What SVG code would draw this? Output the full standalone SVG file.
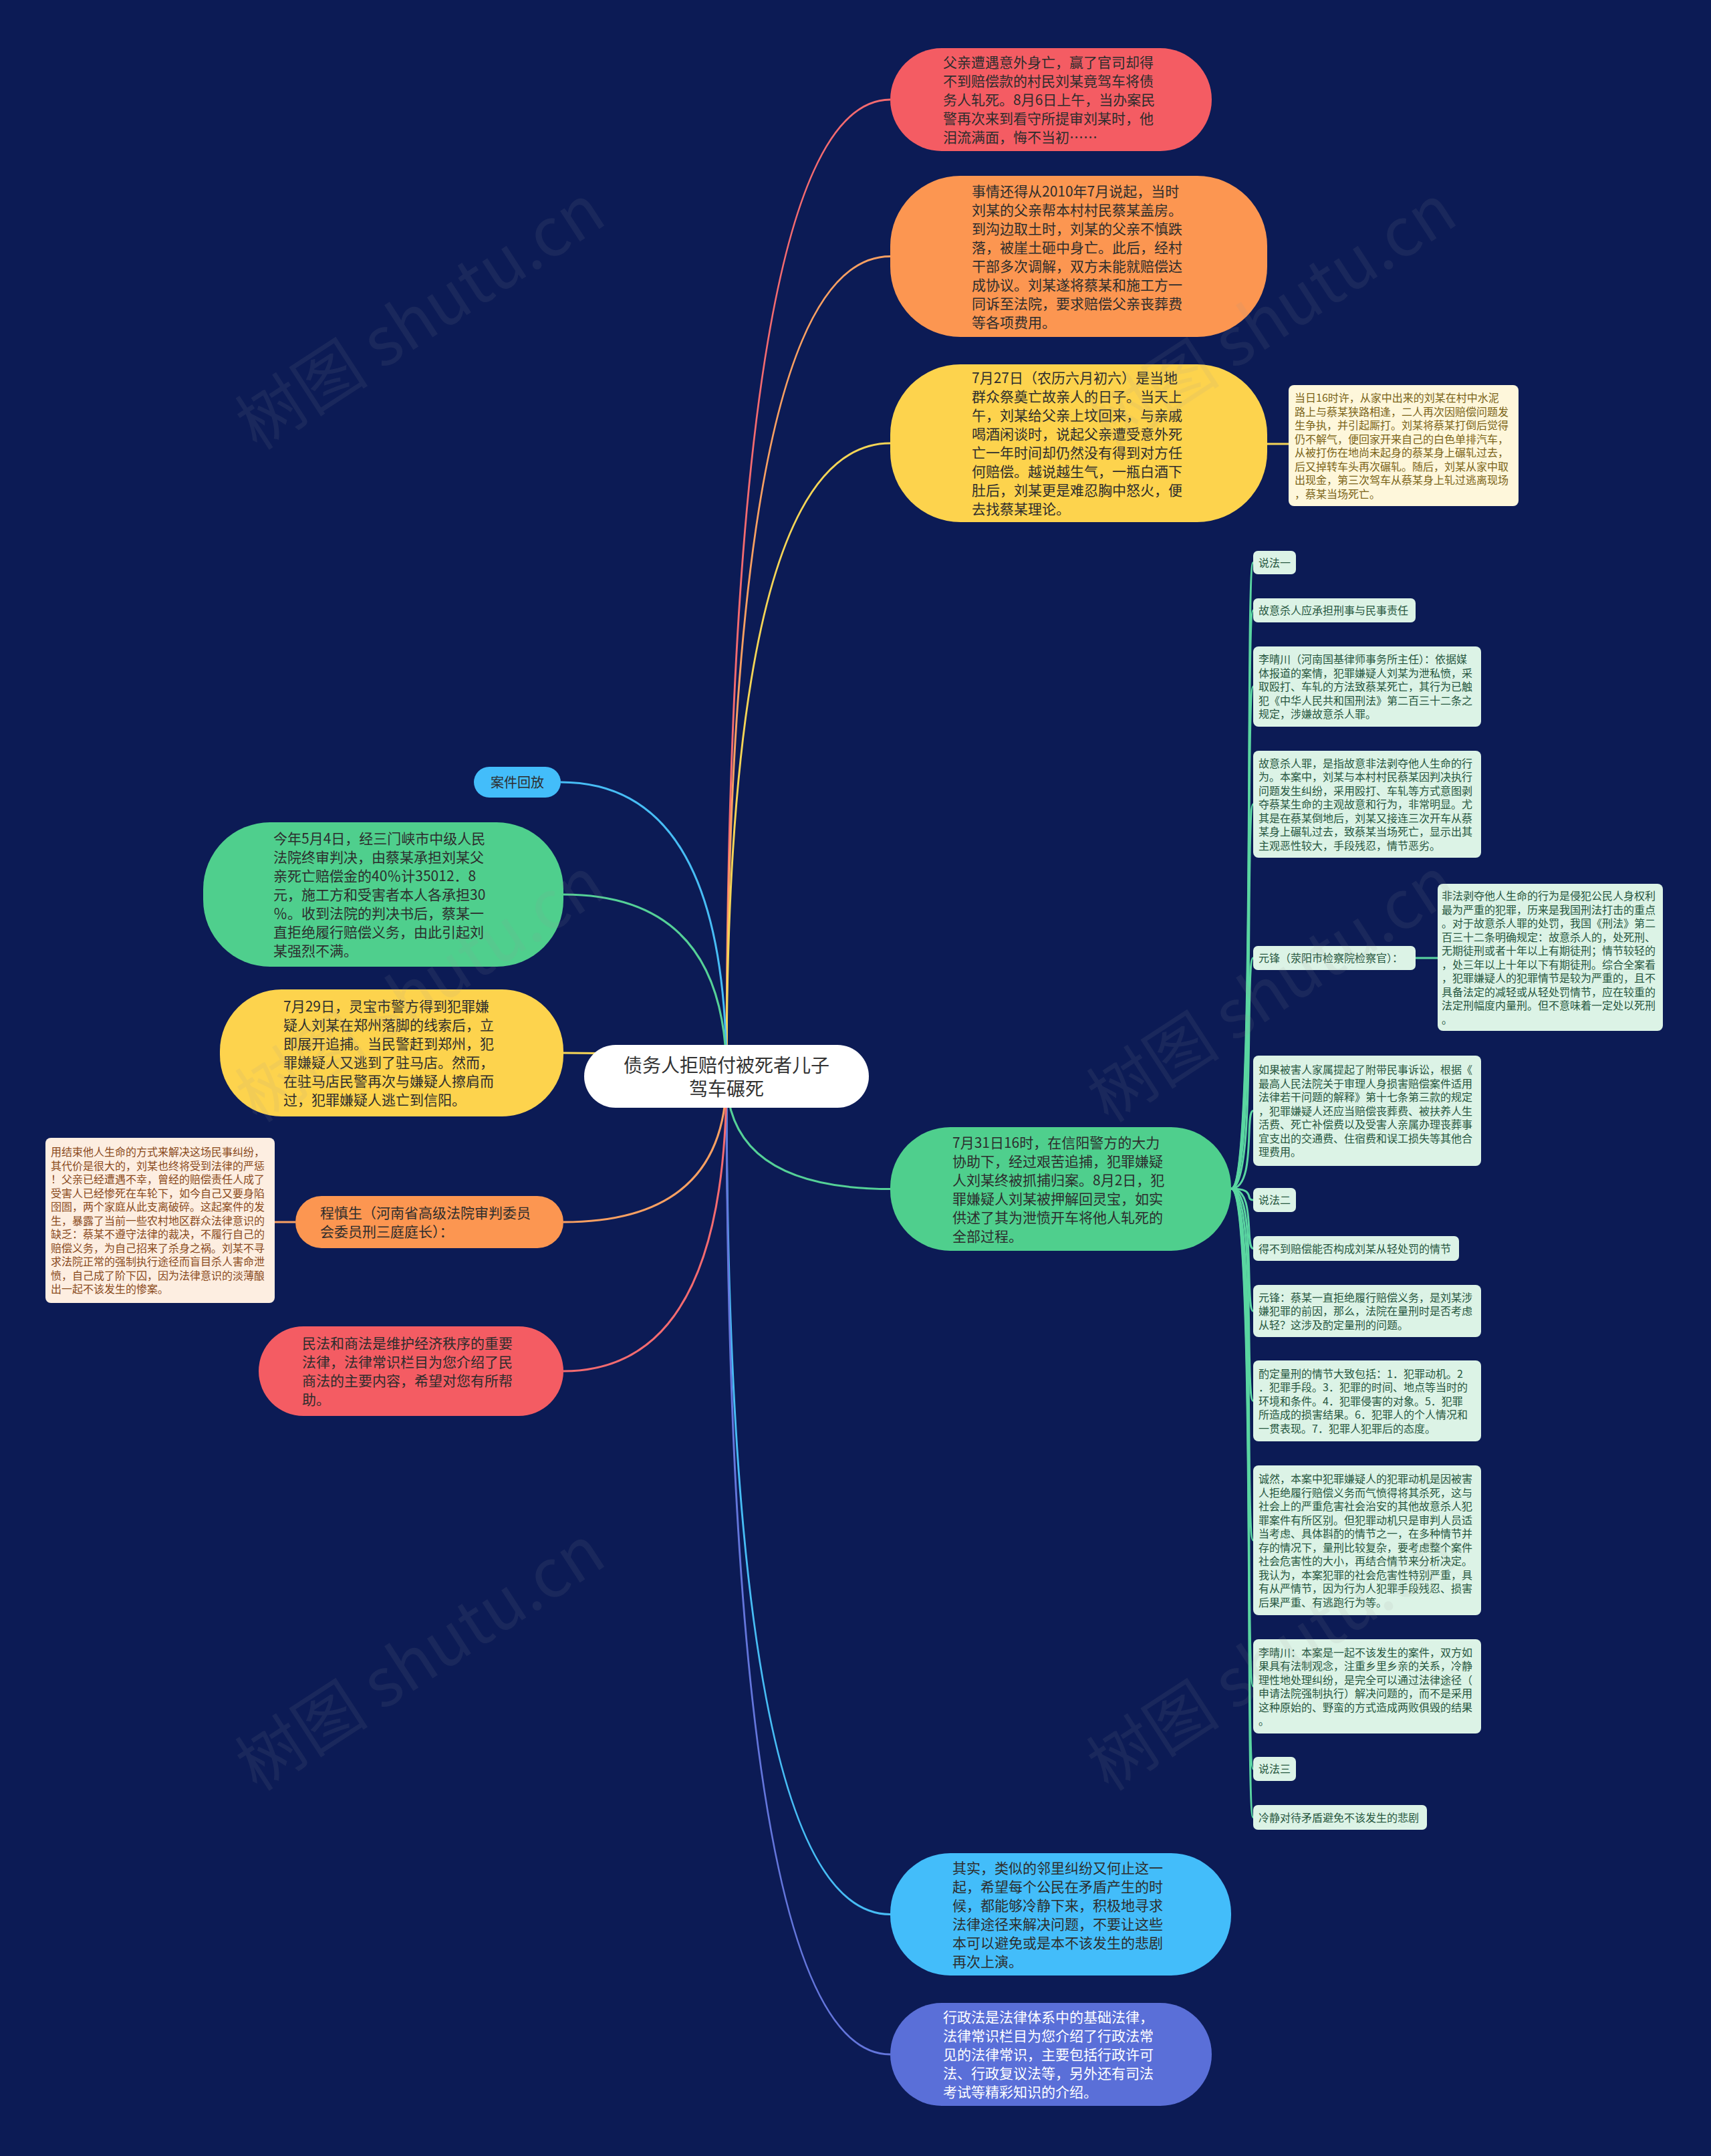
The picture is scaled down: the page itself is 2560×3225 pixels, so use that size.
<svg xmlns="http://www.w3.org/2000/svg" width="2560" height="3225" viewBox="0 0 2560 3225">
<style>
text{font-family:"Noto Sans CJK SC","Liberation Sans",sans-serif}
.b{font-size:21px;fill:#2d2d2d}
.w{font-size:21px;fill:#ffffff}
.s{font-size:16px;fill:#27573f}
.ny{font-size:16px;fill:#7b6418}
.no{font-size:16px;fill:#8a4a1c}
.c{font-size:28px;fill:#333333;text-anchor:middle}
.cn path,.cn line{fill:none;stroke-width:3}
.m{fill:#dcf3e6}
.wm{font-size:100px;fill:#9a9a9a;opacity:0.1}
</style>
<rect width="2560" height="3225" fill="#0c1b55"/>
<g id="connectors" class="cn">
<path d="M1087,1610 Q1087,149 1332,149" stroke="#f46b70"/>
<path d="M1087,1610 Q1087,383.5 1332,383.5" stroke="#f9a062"/>
<path d="M1087,1610 Q1087,663 1332,663" stroke="#f5d556"/>
<path d="M1087,1610 Q1087,1778.5 1332,1778.5" stroke="#55d197"/>
<path d="M1087,1610 Q1087,2863.5 1332,2863.5" stroke="#47bdf5"/>
<path d="M1087,1610 Q1087,3073 1332,3073" stroke="#6476dc"/>
<path d="M1087,1610 Q1087,1170 839,1170" stroke="#47bdf5"/>
<path d="M1087,1610 Q1087,1338 843,1338" stroke="#55d197"/>
<path d="M1087,1610 Q1087,1575 843,1575" stroke="#f5d556"/>
<path d="M1087,1610 Q1087,1828 843,1828" stroke="#f9a062"/>
<path d="M1087,1610 Q1087,2051 843,2051" stroke="#f46b70"/>
<line x1="1896" y1="664" x2="1928" y2="664" stroke="#f5d556"/>
<line x1="411" y1="1828" x2="442" y2="1828" stroke="#f9a062"/>
<g stroke="#5ad6a1">
<path d="M1842,1778 C1880,1778 1862,841.5 1875,841.5"/>
<path d="M1842,1778 C1880,1778 1862,913 1875,913"/>
<path d="M1842,1778 C1880,1778 1862,1027 1875,1027"/>
<path d="M1842,1778 C1880,1778 1862,1203 1875,1203"/>
<path d="M1842,1778 C1880,1778 1862,1433 1875,1433"/>
<path d="M1842,1778 C1880,1778 1862,1661.5 1875,1661.5"/>
<path d="M1842,1778 C1880,1778 1862,1795 1875,1795"/>
<path d="M1842,1778 C1880,1778 1862,1867.5 1875,1867.5"/>
<path d="M1842,1778 C1880,1778 1862,1961 1875,1961"/>
<path d="M1842,1778 C1880,1778 1862,2095.5 1875,2095.5"/>
<path d="M1842,1778 C1880,1778 1862,2304 1875,2304"/>
<path d="M1842,1778 C1880,1778 1862,2522.5 1875,2522.5"/>
<path d="M1842,1778 C1880,1778 1862,2646 1875,2646"/>
<path d="M1842,1778 C1880,1778 1862,2718.5 1875,2718.5"/>
<line x1="2118" y1="1433" x2="2151" y2="1433"/>
</g>
</g>

<g id="center">
<rect x="874" y="1563" width="426" height="94" rx="47" fill="#ffffff"/>
<text class="c" x="1087" y="1604">债务人拒赔付被死者儿子</text>
<text class="c" x="1087" y="1639">驾车碾死</text>
</g>

<g id="n-red-top">
<rect x="1332" y="72" width="481" height="154" rx="77" fill="#f45c63"/>
<text class="b" x="1411" y="101">父亲遭遇意外身亡，赢了官司却得</text>
<text class="b" x="1411" y="129">不到赔偿款的村民刘某竟驾车将债</text>
<text class="b" x="1411" y="157">务人轧死。8月6日上午，当办案民</text>
<text class="b" x="1411" y="185">警再次来到看守所提审刘某时，他</text>
<text class="b" x="1411" y="213">泪流满面，悔不当初……</text>
</g>

<g id="n-orange-top">
<rect x="1332" y="263" width="564" height="241" rx="105" fill="#fc9651"/>
<text class="b" x="1454" y="293.5">事情还得从2010年7月说起，当时</text>
<text class="b" x="1454" y="321.5">刘某的父亲帮本村村民蔡某盖房。</text>
<text class="b" x="1454" y="349.5">到沟边取土时，刘某的父亲不慎跌</text>
<text class="b" x="1454" y="377.5">落，被崖土砸中身亡。此后，经村</text>
<text class="b" x="1454" y="405.5">干部多次调解，双方未能就赔偿达</text>
<text class="b" x="1454" y="433.5">成协议。刘某遂将蔡某和施工方一</text>
<text class="b" x="1454" y="461.5">同诉至法院，要求赔偿父亲丧葬费</text>
<text class="b" x="1454" y="489.5">等各项费用。</text>
</g>

<g id="n-yellow-top">
<rect x="1332" y="545" width="564" height="236" rx="105" fill="#fdd34d"/>
<text class="b" x="1454" y="573">7月27日（农历六月初六）是当地</text>
<text class="b" x="1454" y="601">群众祭奠亡故亲人的日子。当天上</text>
<text class="b" x="1454" y="629">午，刘某给父亲上坟回来，与亲戚</text>
<text class="b" x="1454" y="657">喝酒闲谈时，说起父亲遭受意外死</text>
<text class="b" x="1454" y="685">亡一年时间却仍然没有得到对方任</text>
<text class="b" x="1454" y="713">何赔偿。越说越生气，一瓶白酒下</text>
<text class="b" x="1454" y="741">肚后，刘某更是难忍胸中怒火，便</text>
<text class="b" x="1454" y="769">去找蔡某理论。</text>
</g>

<g id="note-yellow">
<rect x="1928" y="576" width="344" height="181" rx="8" fill="#fef7db"/>
<text class="ny" x="1937" y="601">当日16时许，从家中出来的刘某在村中水泥</text>
<text class="ny" x="1937" y="621.5">路上与蔡某狭路相逢，二人再次因赔偿问题发</text>
<text class="ny" x="1937" y="642">生争执，并引起厮打。刘某将蔡某打倒后觉得</text>
<text class="ny" x="1937" y="662.5">仍不解气，便回家开来自己的白色单排汽车，</text>
<text class="ny" x="1937" y="683">从被打伤在地尚未起身的蔡某身上碾轧过去，</text>
<text class="ny" x="1937" y="703.5">后又掉转车头再次碾轧。随后，刘某从家中取</text>
<text class="ny" x="1937" y="724">出现金，第三次驾车从蔡某身上轧过逃离现场</text>
<text class="ny" x="1937" y="744.5">，蔡某当场死亡。</text>
</g>

<g id="n-green-right">
<rect x="1332" y="1686" width="510" height="185" rx="90" fill="#4fcf8d"/>
<text class="b" x="1425" y="1716.5">7月31日16时，在信阳警方的大力</text>
<text class="b" x="1425" y="1744.5">协助下，经过艰苦追捕，犯罪嫌疑</text>
<text class="b" x="1425" y="1772.5">人刘某终被抓捕归案。8月2日，犯</text>
<text class="b" x="1425" y="1800.5">罪嫌疑人刘某被押解回灵宝，如实</text>
<text class="b" x="1425" y="1828.5">供述了其为泄愤开车将他人轧死的</text>
<text class="b" x="1425" y="1856.5">全部过程。</text>
</g>

<g id="m-shuofa1">
<rect class="m" x="1875" y="824" width="64" height="35" rx="7"/>
<text class="s" x="1883" y="847.5">说法一</text>
</g>
<g id="m-guyi">
<rect class="m" x="1875" y="895" width="243" height="36" rx="7"/>
<text class="s" x="1883" y="919">故意杀人应承担刑事与民事责任</text>
</g>
<g id="m-liqingchuan1">
<rect class="m" x="1875" y="967" width="341" height="120" rx="8"/>
<text class="s" x="1883" y="992">李晴川（河南国基律师事务所主任）：依据媒</text>
<text class="s" x="1883" y="1012.5">体报道的案情，犯罪嫌疑人刘某为泄私愤，采</text>
<text class="s" x="1883" y="1033">取殴打、车轧的方法致蔡某死亡，其行为已触</text>
<text class="s" x="1883" y="1053.5">犯《中华人民共和国刑法》第二百三十二条之</text>
<text class="s" x="1883" y="1074">规定，涉嫌故意杀人罪。</text>
</g>
<g id="m-guyisharenzui">
<rect class="m" x="1875" y="1123" width="341" height="160" rx="8"/>
<text class="s" x="1883" y="1147.5">故意杀人罪，是指故意非法剥夺他人生命的行</text>
<text class="s" x="1883" y="1168">为。本案中，刘某与本村村民蔡某因判决执行</text>
<text class="s" x="1883" y="1188.5">问题发生纠纷，采用殴打、车轧等方式意图剥</text>
<text class="s" x="1883" y="1209">夺蔡某生命的主观故意和行为，非常明显。尤</text>
<text class="s" x="1883" y="1229.5">其是在蔡某倒地后，刘某又接连三次开车从蔡</text>
<text class="s" x="1883" y="1250">某身上碾轧过去，致蔡某当场死亡，显示出其</text>
<text class="s" x="1883" y="1270.5">主观恶性较大，手段残忍，情节恶劣。</text>
</g>
<g id="m-yuanfeng1">
<rect class="m" x="1875" y="1415" width="243" height="36" rx="7"/>
<text class="s" x="1883" y="1439">元锋（荥阳市检察院检察官）：</text>
</g>
<g id="m-note-feifa">
<rect class="m" x="2151" y="1322" width="337" height="220" rx="8"/>
<text class="s" x="2157" y="1346">非法剥夺他人生命的行为是侵犯公民人身权利</text>
<text class="s" x="2157" y="1366.5">最为严重的犯罪，历来是我国刑法打击的重点</text>
<text class="s" x="2157" y="1387">。对于故意杀人罪的处罚，我国《刑法》第二</text>
<text class="s" x="2157" y="1407.5">百三十二条明确规定：故意杀人的，处死刑、</text>
<text class="s" x="2157" y="1428">无期徒刑或者十年以上有期徒刑；情节较轻的</text>
<text class="s" x="2157" y="1448.5">，处三年以上十年以下有期徒刑。综合全案看</text>
<text class="s" x="2157" y="1469">，犯罪嫌疑人的犯罪情节是较为严重的，且不</text>
<text class="s" x="2157" y="1489.5">具备法定的减轻或从轻处罚情节，应在较重的</text>
<text class="s" x="2157" y="1510">法定刑幅度内量刑。但不意味着一定处以死刑</text>
<text class="s" x="2157" y="1530.5">。</text>
</g>
<g id="m-ruguo">
<rect class="m" x="1875" y="1579" width="341" height="165" rx="8"/>
<text class="s" x="1883" y="1606">如果被害人家属提起了附带民事诉讼，根据《</text>
<text class="s" x="1883" y="1626.5">最高人民法院关于审理人身损害赔偿案件适用</text>
<text class="s" x="1883" y="1647">法律若干问题的解释》第十七条第三款的规定</text>
<text class="s" x="1883" y="1667.5">，犯罪嫌疑人还应当赔偿丧葬费、被扶养人生</text>
<text class="s" x="1883" y="1688">活费、死亡补偿费以及受害人亲属办理丧葬事</text>
<text class="s" x="1883" y="1708.5">宜支出的交通费、住宿费和误工损失等其他合</text>
<text class="s" x="1883" y="1729">理费用。</text>
</g>
<g id="m-shuofa2">
<rect class="m" x="1875" y="1777" width="64" height="36" rx="7"/>
<text class="s" x="1883" y="1801">说法二</text>
</g>
<g id="m-budedao">
<rect class="m" x="1875" y="1849" width="308" height="37" rx="7"/>
<text class="s" x="1883" y="1873.5">得不到赔偿能否构成刘某从轻处罚的情节</text>
</g>
<g id="m-yuanfeng2">
<rect class="m" x="1875" y="1922" width="341" height="78" rx="8"/>
<text class="s" x="1883" y="1946.5">元锋：蔡某一直拒绝履行赔偿义务，是刘某涉</text>
<text class="s" x="1883" y="1967">嫌犯罪的前因，那么，法院在量刑时是否考虑</text>
<text class="s" x="1883" y="1987.5">从轻？这涉及酌定量刑的问题。</text>
</g>
<g id="m-zhuoding">
<rect class="m" x="1875" y="2035" width="341" height="121" rx="8"/>
<text class="s" x="1883" y="2060.5">酌定量刑的情节大致包括：1．犯罪动机。2</text>
<text class="s" x="1883" y="2081">．犯罪手段。3．犯罪的时间、地点等当时的</text>
<text class="s" x="1883" y="2101.5">环境和条件。4．犯罪侵害的对象。5．犯罪</text>
<text class="s" x="1883" y="2122">所造成的损害结果。6．犯罪人的个人情况和</text>
<text class="s" x="1883" y="2142.5">一贯表现。7．犯罪人犯罪后的态度。</text>
</g>
<g id="m-chengran">
<rect class="m" x="1875" y="2192" width="341" height="224" rx="8"/>
<text class="s" x="1883" y="2218">诚然，本案中犯罪嫌疑人的犯罪动机是因被害</text>
<text class="s" x="1883" y="2238.5">人拒绝履行赔偿义务而气愤得将其杀死，这与</text>
<text class="s" x="1883" y="2259">社会上的严重危害社会治安的其他故意杀人犯</text>
<text class="s" x="1883" y="2279.5">罪案件有所区别。但犯罪动机只是审判人员适</text>
<text class="s" x="1883" y="2300">当考虑、具体斟酌的情节之一，在多种情节并</text>
<text class="s" x="1883" y="2320.5">存的情况下，量刑比较复杂，要考虑整个案件</text>
<text class="s" x="1883" y="2341">社会危害性的大小，再结合情节来分析决定。</text>
<text class="s" x="1883" y="2361.5">我认为，本案犯罪的社会危害性特别严重，具</text>
<text class="s" x="1883" y="2382">有从严情节，因为行为人犯罪手段残忍、损害</text>
<text class="s" x="1883" y="2402.5">后果严重、有逃跑行为等。</text>
</g>
<g id="m-liqingchuan2">
<rect class="m" x="1875" y="2452" width="341" height="141" rx="8"/>
<text class="s" x="1883" y="2477.5">李晴川：本案是一起不该发生的案件，双方如</text>
<text class="s" x="1883" y="2498">果具有法制观念，注重乡里乡亲的关系，冷静</text>
<text class="s" x="1883" y="2518.5">理性地处理纠纷，是完全可以通过法律途径（</text>
<text class="s" x="1883" y="2539">申请法院强制执行）解决问题的，而不是采用</text>
<text class="s" x="1883" y="2559.5">这种原始的、野蛮的方式造成两败俱毁的结果</text>
<text class="s" x="1883" y="2580">。</text>
</g>
<g id="m-shuofa3">
<rect class="m" x="1875" y="2628" width="64" height="36" rx="7"/>
<text class="s" x="1883" y="2652">说法三</text>
</g>
<g id="m-lengjing">
<rect class="m" x="1875" y="2700" width="260" height="37" rx="7"/>
<text class="s" x="1883" y="2724.5">冷静对待矛盾避免不该发生的悲剧</text>
</g>

<g id="n-anjian">
<rect x="709" y="1147" width="130" height="46" rx="23" fill="#43bdfa"/>
<text x="774" y="1177.5" style="font-size:20px;fill:#2d2d2d;text-anchor:middle">案件回放</text>
</g>

<g id="n-green-left">
<rect x="304" y="1230" width="539" height="216" rx="100" fill="#4fcf8d"/>
<text class="b" x="409" y="1262">今年5月4日，经三门峡市中级人民</text>
<text class="b" x="409" y="1290">法院终审判决，由蔡某承担刘某父</text>
<text class="b" x="409" y="1318">亲死亡赔偿金的40％计35012．8</text>
<text class="b" x="409" y="1346">元，施工方和受害者本人各承担30</text>
<text class="b" x="409" y="1374">％。收到法院的判决书后，蔡某一</text>
<text class="b" x="409" y="1402">直拒绝履行赔偿义务，由此引起刘</text>
<text class="b" x="409" y="1430">某强烈不满。</text>
</g>

<g id="n-yellow-left">
<rect x="329" y="1480" width="514" height="190" rx="92" fill="#fdd34d"/>
<text class="b" x="424" y="1513">7月29日，灵宝市警方得到犯罪嫌</text>
<text class="b" x="424" y="1541">疑人刘某在郑州落脚的线索后，立</text>
<text class="b" x="424" y="1569">即展开追捕。当民警赶到郑州，犯</text>
<text class="b" x="424" y="1597">罪嫌疑人又逃到了驻马店。然而，</text>
<text class="b" x="424" y="1625">在驻马店民警再次与嫌疑人擦肩而</text>
<text class="b" x="424" y="1653">过，犯罪嫌疑人逃亡到信阳。</text>
</g>

<g id="n-cheng">
<rect x="442" y="1789" width="401" height="78" rx="39" fill="#fc9651"/>
<text class="b" x="479" y="1822">程慎生（河南省高级法院审判委员</text>
<text class="b" x="479" y="1850">会委员刑三庭庭长）：</text>
</g>

<g id="note-orange">
<rect x="68" y="1702" width="343" height="247" rx="8" fill="#fdeee1"/>
<text class="no" x="76" y="1729">用结束他人生命的方式来解决这场民事纠纷，</text>
<text class="no" x="76" y="1749.5">其代价是很大的，刘某也终将受到法律的严惩</text>
<text class="no" x="76" y="1770">！父亲已经遭遇不幸，曾经的赔偿责任人成了</text>
<text class="no" x="76" y="1790.5">受害人已经惨死在车轮下，如今自己又要身陷</text>
<text class="no" x="76" y="1811">囹圄，两个家庭从此支离破碎。这起案件的发</text>
<text class="no" x="76" y="1831.5">生，暴露了当前一些农村地区群众法律意识的</text>
<text class="no" x="76" y="1852">缺乏：蔡某不遵守法律的裁决，不履行自己的</text>
<text class="no" x="76" y="1872.5">赔偿义务，为自己招来了杀身之祸。刘某不寻</text>
<text class="no" x="76" y="1893">求法院正常的强制执行途径而盲目杀人害命泄</text>
<text class="no" x="76" y="1913.5">愤，自己成了阶下囚，因为法律意识的淡薄酿</text>
<text class="no" x="76" y="1934">出一起不该发生的惨案。</text>
</g>

<g id="n-red-left">
<rect x="387" y="1984" width="456" height="134" rx="67" fill="#f45c63"/>
<text class="b" x="452" y="2017">民法和商法是维护经济秩序的重要</text>
<text class="b" x="452" y="2045">法律，法律常识栏目为您介绍了民</text>
<text class="b" x="452" y="2073">商法的主要内容，希望对您有所帮</text>
<text class="b" x="452" y="2101">助。</text>
</g>

<g id="n-blue-bottom">
<rect x="1332" y="2772" width="510" height="183" rx="90" fill="#43bdfa"/>
<text class="b" x="1425" y="2801.5">其实，类似的邻里纠纷又何止这一</text>
<text class="b" x="1425" y="2829.5">起，希望每个公民在矛盾产生的时</text>
<text class="b" x="1425" y="2857.5">候，都能够冷静下来，积极地寻求</text>
<text class="b" x="1425" y="2885.5">法律途径来解决问题，不要让这些</text>
<text class="b" x="1425" y="2913.5">本可以避免或是本不该发生的悲剧</text>
<text class="b" x="1425" y="2941.5">再次上演。</text>
</g>

<g id="n-purple-bottom">
<rect x="1332" y="2996" width="481" height="154" rx="77" fill="#5a6fd8"/>
<text class="w" x="1411" y="3025">行政法是法律体系中的基础法律，</text>
<text class="w" x="1411" y="3053">法律常识栏目为您介绍了行政法常</text>
<text class="w" x="1411" y="3081">见的法律常识，主要包括行政许可</text>
<text class="w" x="1411" y="3109">法、行政复议法等，另外还有司法</text>
<text class="w" x="1411" y="3137">考试等精彩知识的介绍。</text>
</g>

<g id="watermarks">
<text class="wm" x="648" y="504" text-anchor="middle" transform="rotate(-33 648 504)">树图 shutu.cn</text>
<text class="wm" x="1922" y="504" text-anchor="middle" transform="rotate(-33 1922 504)">树图 shutu.cn</text>
<text class="wm" x="648" y="1510" text-anchor="middle" transform="rotate(-33 648 1510)">树图 shutu.cn</text>
<text class="wm" x="1922" y="1510" text-anchor="middle" transform="rotate(-33 1922 1510)">树图 shutu.cn</text>
<text class="wm" x="648" y="2510" text-anchor="middle" transform="rotate(-33 648 2510)">树图 shutu.cn</text>
<text class="wm" x="1922" y="2510" text-anchor="middle" transform="rotate(-33 1922 2510)">树图 shutu.cn</text>
</g>
</svg>
